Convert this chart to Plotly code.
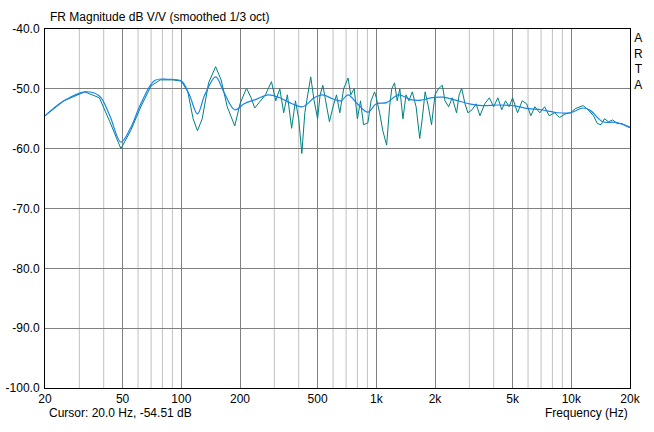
import plotly.graph_objects as go

raw_f = [20,25,32,38,43,49,55,62,70,78,90,100,108,115,121,128,138,150,160,172,188,200,216,228,238,255,270,290,305,320,335,350,368,385,400,415,430,445,461,480,500,515,532,550,575,600,625,650,680,716,740,770,800,830,860,905,940,980,1000,1040,1080,1130,1170,1200,1240,1280,1320,1370,1420,1470,1530,1600,1670,1720,1780,1850,1920,2000,2080,2180,2250,2350,2450,2580,2660,2740,2850,2950,3100,3250,3400,3600,3800,4000,4200,4400,4600,4800,5000,5300,5600,5900,6200,6500,6900,7300,7700,8200,8700,9300,9900,10500,11000,11500,12200,13000,13600,14200,14800,15500,16300,17200,18200,19000,20000]
raw_db = [-54.5,-52,-50.5,-51.5,-55.5,-60,-57,-53,-49.5,-48.5,-48.5,-48.7,-50.5,-55,-57,-55,-49,-46.3,-48.5,-53,-56.2,-52.5,-49.9,-51.5,-53.2,-52,-51,-48.8,-52,-50,-54,-51,-56.6,-52,-55,-60.8,-54,-51,-48,-52,-55,-51,-49.4,-52,-55.5,-53,-51,-54,-50,-48.2,-51,-50,-55,-52,-56,-55.7,-52,-50.5,-51.5,-54,-57,-59.4,-53,-50,-49,-52,-50,-55,-51,-52,-50.5,-53,-58.3,-55,-50.5,-53,-56,-51,-50,-49.4,-52,-53,-51.5,-54,-51,-49.9,-52.5,-54,-53.5,-52.5,-54.5,-52.5,-51.5,-53,-51.5,-53.5,-52,-53,-51.5,-54,-52,-52.5,-54.5,-53,-54,-53,-54.5,-54,-54.8,-54.2,-54,-53.3,-53,-52.8,-53.5,-54.5,-55.8,-56,-55,-55.5,-55.2,-55.8,-55.8,-56.2,-56.5]

sm_f = [20,25,32,38,43,49,55,62,73,85,100,110,121,132,150,165,188,210,240,280,320,370,420,480,530,600,660,716,800,905,1000,1130,1300,1500,1700,1900,2180,2500,3000,3500,4200,5000,6000,7000,8500,9900,11500,12500,14500,17000,20000]
sm_db = [-54.5,-52,-50.5,-51.2,-54.5,-58.9,-56.5,-52.5,-48.6,-48.4,-48.7,-51,-54.2,-51,-48,-50.5,-53.5,-52.5,-51.8,-51,-51.5,-52.5,-53,-51.5,-51,-51.7,-52,-51,-52.5,-53.9,-52.5,-52.3,-51,-51.8,-51.9,-51.5,-51.4,-51.8,-52.5,-52.8,-52.7,-52.8,-53.3,-53.5,-54,-54,-53.2,-53.6,-55.5,-55.6,-56.4]

x_ticks = [20,50,100,200,500,1000,2000,5000,10000,20000]
x_labels = ["20","50","100","200","500","1k","2k","5k","10k","20k"]
y_ticks = [-40,-50,-60,-70,-80,-90,-100]
y_labels = ["-40.0","-50.0","-60.0","-70.0","-80.0","-90.0","-100.0"]

fig = go.Figure()
minor = [30,40,60,70,80,90,300,400,600,700,800,900,3000,4000,6000,7000,8000,9000]
for m in minor:
    fig.add_shape(type="line", x0=m, x1=m, y0=-100, y1=-40, xref="x", yref="y",
                  line=dict(color="#c0c0c0", width=1), layer="below")
fig.add_trace(go.Scatter(x=raw_f, y=raw_db, mode="lines", line=dict(color="#008080", width=1), hoverinfo="skip"))
fig.add_trace(go.Scatter(x=sm_f, y=sm_db, mode="lines", line=dict(color="#1684f0", width=1.2, shape="spline"), hoverinfo="skip"))

fnt = dict(family="Liberation Sans, Arial", size=12, color="black")
fig.update_layout(
    width=654, height=432, margin=dict(l=45, r=24, t=29, b=44, autoexpand=False),
    paper_bgcolor="white", plot_bgcolor="white", showlegend=False, font=fnt,
    xaxis=dict(type="log", range=[1.30103, 4.30103], tickvals=x_ticks, ticktext=x_labels,
               showgrid=True, gridcolor="#808080", gridwidth=1, showline=True, linecolor="black",
               mirror=True, ticks="", zeroline=False, automargin=False),
    yaxis=dict(range=[-100, -40], tickvals=y_ticks, ticktext=y_labels, showgrid=True,
               gridcolor="#808080", showline=True, linecolor="black", mirror=True, ticks="",
               zeroline=False, automargin=False, ticklabelstandoff=2),
)
fig.add_annotation(text="FR Magnitude dB V/V (smoothed 1/3 oct)", xref="paper", yref="paper",
                   x=0, y=1, xshift=3, yshift=3, xanchor="left", yanchor="bottom", showarrow=False, font=fnt)
fig.add_annotation(text="A<br>R<br>T<br>A", xref="paper", yref="paper", x=1, y=1, xshift=2,
                   xanchor="left", yanchor="top", showarrow=False, font=fnt, align="center")
fig.add_annotation(text="Cursor: 20.0 Hz, -54.51 dB", xref="paper", yref="paper", x=0, y=0,
                   xshift=2, yshift=-34, xanchor="left", yanchor="bottom", showarrow=False, font=fnt)
fig.add_annotation(text="Frequency (Hz)", xref="paper", yref="paper", x=1, y=0,
                   yshift=-34, xanchor="right", yanchor="bottom", showarrow=False, font=fnt)
fig.write_html("out.html", config={"displayModeBar": False},
               post_script="document.body.style.margin='0';")
